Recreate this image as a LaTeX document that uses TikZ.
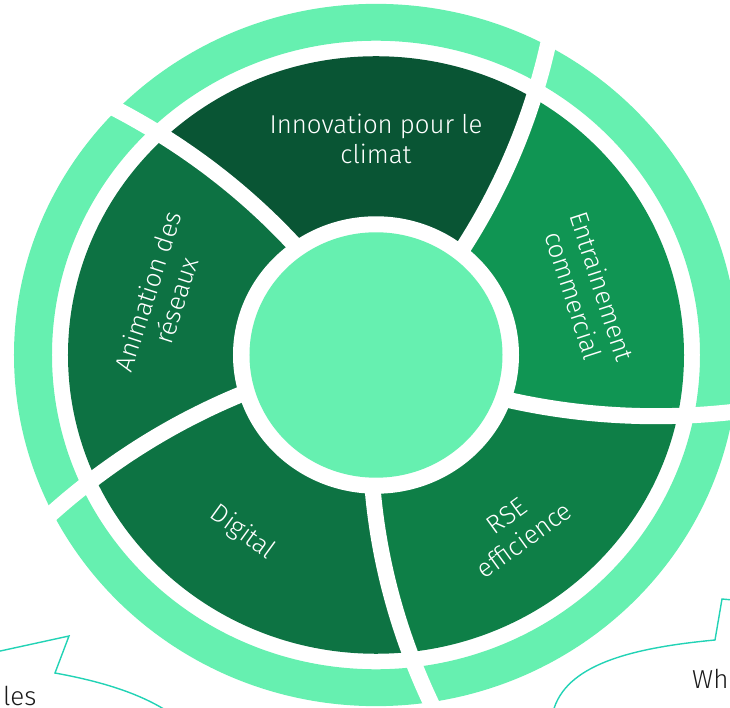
\documentclass[tikz,border=0pt]{standalone}
\usepackage{fontspec}
\setmainfont{Fira Sans Light}
\definecolor{lightg}{HTML}{66F0B0}
\definecolor{cInno}{HTML}{095534}
\definecolor{cAnim}{HTML}{0D7243}
\definecolor{cEntr}{HTML}{109553}
\definecolor{cRse}{HTML}{0E7F47}
\definecolor{cDig}{HTML}{0D7343}
\definecolor{tealc}{HTML}{22D3B5}
\definecolor{txtdark}{HTML}{1A1A1A}
\tikzset{
  lbl/.style={text=white, font=\fontsize{25.8}{30}\selectfont, align=center, inner sep=0pt},
  outtxt/.style={text=txtdark, font=\fontsize{26}{30}\selectfont, inner sep=0pt, anchor=base west},
  callout/.style={draw=tealc, line width=1.4pt, line join=miter},
  gapline/.style={draw=white, line width=16pt}
}
\begin{document}
\begin{tikzpicture}[x=1pt,y=1pt]
\useasboundingbox (-376,-353) rectangle (354,355);
\begin{scope}[yscale=0.97]
  \begin{scope}
    \clip (0,0) circle (308);
    \foreach \ga/\gb/\gc in {-19/52/cEntr, 52/126/cInno, 126/197/cAnim, 197/269/cDig, 269/341/cRse}{
      \fill[\gc] plot[domain=0:600, samples=40, variable=\q] ({\ga+0.045*(\q-147)}:{\q})
        -- plot[domain=600:0, samples=40, variable=\q] ({\gb+0.045*(\q-147)}:{\q}) -- cycle;
    }
  \end{scope}
  \fill[lightg, even odd rule] (0,0) circle (362) (0,0) circle (324);
  \fill[white] (0,0) circle (143);
  \fill[lightg] (0,0) circle (126.5);
  \foreach \ga in {-19,52,126,197,269}{
    \draw[gapline] plot[domain=134:390, samples=40, variable=\q] ({\ga+0.045*(\q-147)}:{\q});
  }
\end{scope}
\node[lbl] (inno) at (0,216.3) {Innovation pour le\\climat};
\node[lbl, rotate=-72] (entr) at (212,64) {Entrainement\\commercial};
\node[lbl, rotate=36] (rse) at (139.5,-173) {RSE\\efficience};
\node[lbl, rotate=-36] (dig) at (-133.5,-177.5) {Digital};
\node[lbl, rotate=72] (anim) at (-214,59) {Animation des\\réseaux};
\coordinate (l0) at (-378,-296.5);
\coordinate (ltip) at (-307,-281);
\coordinate (lin) at (-321,-318);
\coordinate (lend) at (-196,-365);
\draw[callout] (l0) -- (ltip) -- (lin) .. controls (-266,-328) and (-226,-342) .. (lend);
\coordinate (r0) at (360,-245.3);
\coordinate (rtip) at (346,-244);
\coordinate (rin) at (339,-285);
\coordinate (rend) at (177,-357);
\draw[callout] (r0) -- (rtip) -- (rin) .. controls (254,-293) and (189,-310) .. (rend);
\node[outtxt] (les) at (-373,-350) {les};
\node[outtxt] (wh) at (316,-333) {Wh};
\end{tikzpicture}
\end{document}
